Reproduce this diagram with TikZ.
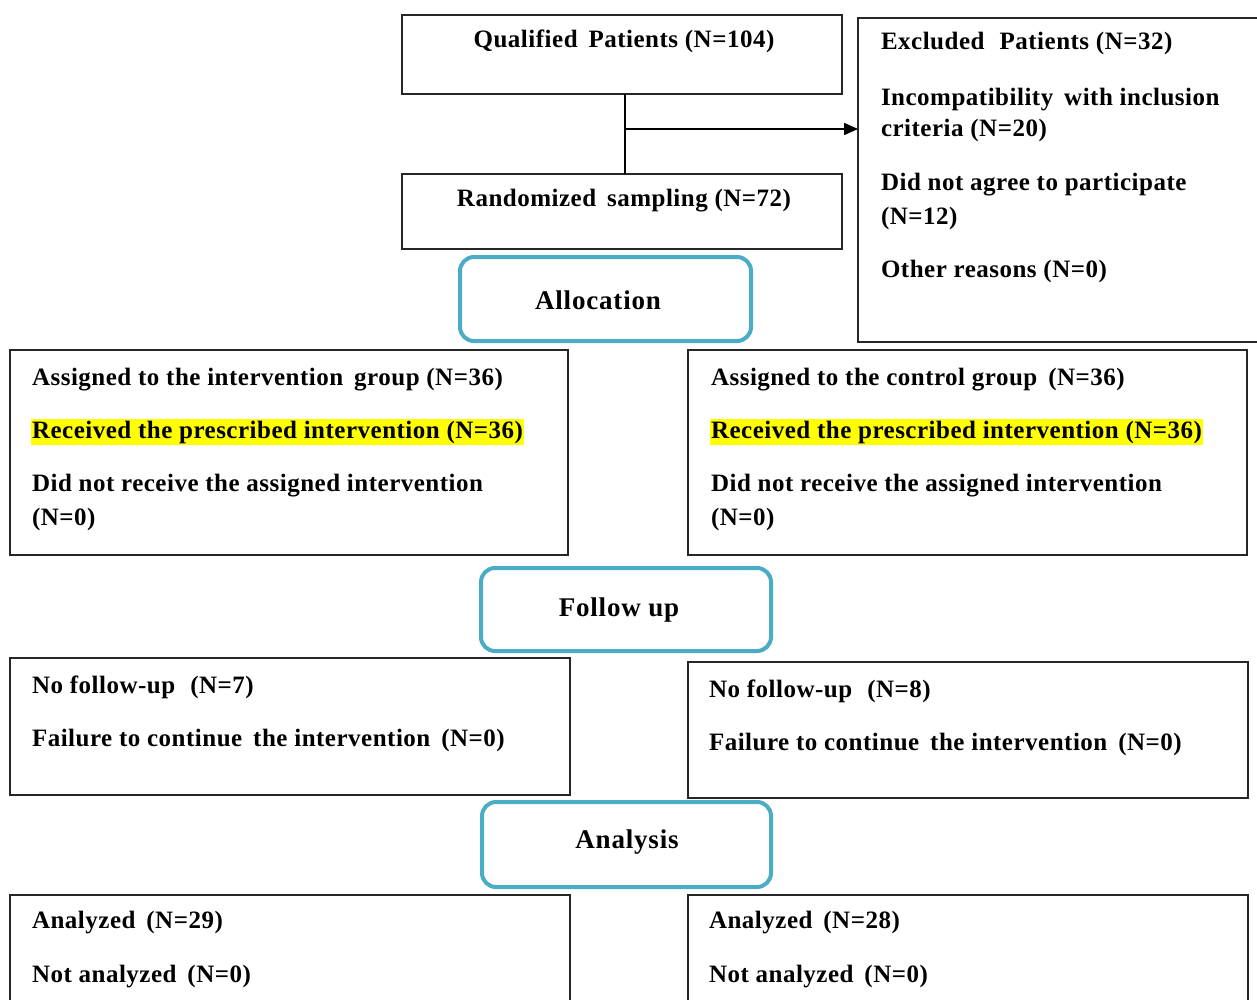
\documentclass[tikz,border=0pt]{standalone}
\usepackage{fontspec}
\setmainfont{Liberation Serif}
\usetikzlibrary{arrows.meta}
\definecolor{aqua}{RGB}{75,172,198}
\definecolor{hl}{RGB}{255,255,0}
\begin{document}
\begin{tikzpicture}[x=1pt,y=-1pt,
  box/.style={draw=black!85, line width=1.4pt, anchor=north west, inner sep=0pt, outer sep=0pt},
  phase/.style={draw=aqua, line width=4pt, rounded corners=14pt, anchor=north west, inner sep=0pt, outer sep=0pt},
  ptxt/.style={anchor=center, inner sep=0pt, outer sep=0pt,
     font=\fontsize{27}{31}\selectfont\bfseries\addfontfeature{LetterSpace=3}},
  txt/.style={anchor=base west, inner sep=0pt, outer sep=0pt,
     font=\fontsize{25}{29}\selectfont\bfseries\addfontfeature{LetterSpace=2}},
  hltxt/.style={txt, fill=hl, inner xsep=1pt, inner ysep=2pt},
  ctxt/.style={txt, anchor=base},
  conn/.style={draw=black, line width=1.4pt}]
\useasboundingbox (0,0) rectangle (1257,1000);
\fill[white] (0,0) rectangle (1257,1000);
\begin{scope}
\clip (0,0) rectangle (1257,1000);
% top boxes
\node[box, minimum width=440, minimum height=79] (qual) at (402,15) {};
\node[ctxt] (qualt) at (624,48) {Qualified\, Patients (N=104)};
\node[box, minimum width=440, minimum height=75] (rand) at (402,174) {};
\node[ctxt] (randt) at (624,207) {Randomized\, sampling (N=72)};
\node[box, minimum width=420, minimum height=324] (excl) at (858,18) {};
\node[txt] (ex1) at (881,50) {Excluded\,\, Patients (N=32)};
\node[txt] (ex2) at (881,106) {Incompatibility\, with inclusion};
\node[txt] (ex3) at (881,137) {criteria (N=20)};
\node[txt] (ex4) at (881,191) {Did not agree to participate};
\node[txt] (ex5) at (881,225) {(N=12)};
\node[txt] (ex6) at (881,277) {Other reasons (N=0)};
% connectors
\coordinate (split) at (625,129);
\draw[conn] (qual.south -| split) -- (rand.north -| split);
\draw[conn, -{Triangle[length=14,width=12]}] (split) -- (excl.west |- split);
% allocation
\node[phase, minimum width=291, minimum height=84] (alloc) at (460,257) {};
\node[ptxt] (alloct) at (598,300) {Allocation};
\node[box, minimum width=558, minimum height=205] (la) at (10,350) {};
\node[txt] (la1) at (32,385) {Assigned to the intervention\, group (N=36)};
\node[hltxt] (la2) at (31,438) {Received the prescribed intervention (N=36)};
\node[txt] (la3) at (32,491) {Did not receive the assigned intervention};
\node[txt] (la4) at (32,525) {(N=0)};
\node[box, minimum width=559, minimum height=205] (ra) at (688,350) {};
\node[txt] (ra1) at (711,385) {Assigned to the control group\, (N=36)};
\node[hltxt] (ra2) at (710,438) {Received the prescribed intervention (N=36)};
\node[txt] (ra3) at (711,491) {Did not receive the assigned intervention};
\node[txt] (ra4) at (711,525) {(N=0)};
% follow up
\node[phase, minimum width=290, minimum height=83] (follow) at (481,568) {};
\node[ptxt] (followt) at (619,610) {Follow up};
\node[box, minimum width=560, minimum height=137] (lf) at (10,658) {};
\node[txt] (lf1) at (32,693) {No follow-up\,\, (N=7)};
\node[txt] (lf2) at (32,746) {Failure to continue\, the intervention\, (N=0)};
\node[box, minimum width=560, minimum height=136] (rf) at (688,662) {};
\node[txt] (rf1) at (709,697) {No follow-up\,\, (N=8)};
\node[txt] (rf2) at (709,750) {Failure to continue\, the intervention\, (N=0)};
% analysis
\node[phase, minimum width=289, minimum height=85] (analysis) at (482,802) {};
\node[ptxt] (analysist) at (627,842) {Analysis};
\node[box, minimum width=560, minimum height=140] (lan) at (10,895) {};
\node[txt] (lan1) at (32,928) {Analyzed\, (N=29)};
\node[txt] (lan2) at (32,982) {Not analyzed\, (N=0)};
\node[box, minimum width=560, minimum height=140] (ran) at (688,895) {};
\node[txt] (ran1) at (709,928) {Analyzed\, (N=28)};
\node[txt] (ran2) at (709,982) {Not analyzed\, (N=0)};
\end{scope}
\end{tikzpicture}
\end{document}
